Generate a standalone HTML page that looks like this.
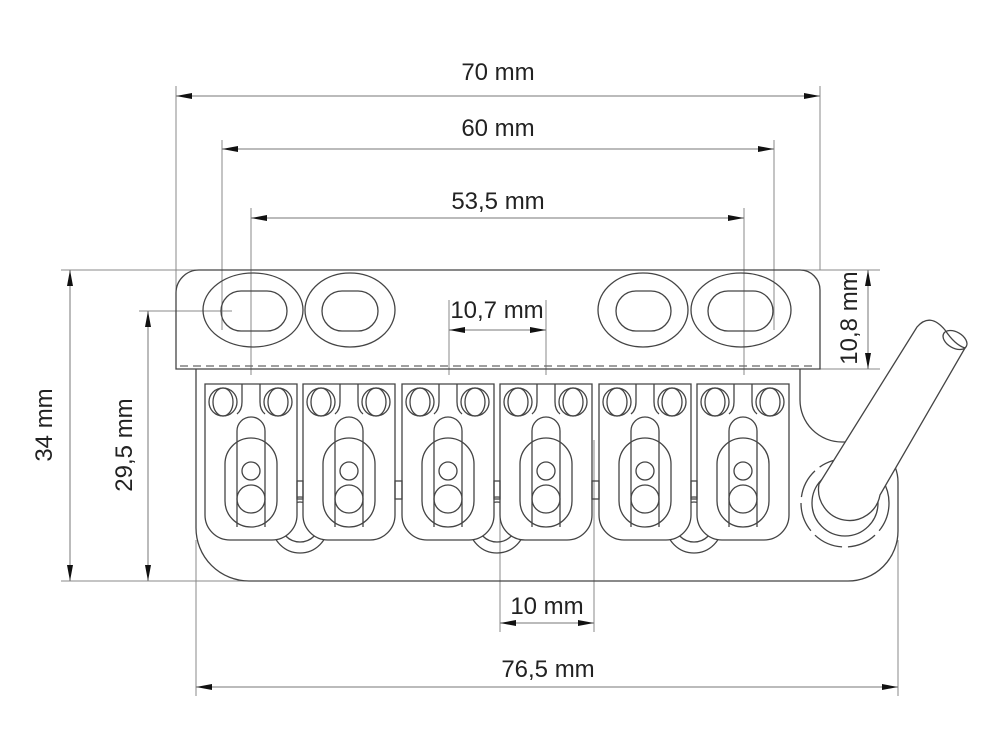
<!DOCTYPE html>
<html><head><meta charset="utf-8"><style>
html,body{margin:0;padding:0;background:#fff;}
svg{display:block;}
text{font-family:"Liberation Sans",sans-serif;font-size:24px;fill:#222;}
</style></head><body>
<svg width="1000" height="750" viewBox="0 0 1000 750" xmlns="http://www.w3.org/2000/svg">
<defs>
<marker id="a" viewBox="0 0 16 6" refX="16" refY="3" markerWidth="16" markerHeight="6" orient="auto-start-reverse" markerUnits="userSpaceOnUse"><path d="M16 3 L0 0 L0 6 Z" fill="#111"/></marker>
<g id="sad" fill="none" stroke="#444" stroke-width="1.3">
<path d="M0 384 V515 A25 25 0 0 0 25 540 H67 A25 25 0 0 0 92 515 V384 Z"/>
<circle cx="18" cy="402" r="14"/><ellipse cx="18" cy="402" rx="10" ry="14"/>
<circle cx="73" cy="402" r="14"/><ellipse cx="73" cy="402" rx="10" ry="14"/>
<path d="M37 384 V402 Q37 410 32 414 M55 384 V402 Q55 410 60 414"/>
<path d="M32 527 V431 A14 14 0 0 1 60 431 V527"/>
<rect x="20" y="438" width="52" height="89" rx="26"/>
<circle cx="46" cy="471" r="9"/><circle cx="46" cy="499" r="14"/>
</g>
</defs>
<g fill="none" stroke="#888" stroke-width="1">
<line x1="176" y1="86" x2="176" y2="300"/><line x1="820" y1="86" x2="820" y2="270"/>
<line x1="222" y1="140" x2="222" y2="330"/><line x1="774" y1="140" x2="774" y2="330"/>
<line x1="251" y1="208" x2="251" y2="375"/><line x1="744" y1="208" x2="744" y2="375"/>
<line x1="449" y1="300" x2="449" y2="375"/><line x1="546" y1="300" x2="546" y2="375"/>
<line x1="61" y1="270" x2="880" y2="270"/>
<line x1="820" y1="369" x2="880" y2="369"/>
<line x1="139" y1="311" x2="232" y2="311"/>
<line x1="61" y1="581" x2="260" y2="581"/>
<line x1="500" y1="440" x2="500" y2="632"/><line x1="594" y1="440" x2="594" y2="632"/>
<line x1="196" y1="540" x2="196" y2="696"/><line x1="898" y1="540" x2="898" y2="696"/>
</g>
<g stroke="#777" stroke-width="1" fill="none">
<line x1="176" y1="96" x2="820" y2="96" marker-start="url(#a)" marker-end="url(#a)"/>
<line x1="222" y1="149" x2="774" y2="149" marker-start="url(#a)" marker-end="url(#a)"/>
<line x1="251" y1="218" x2="744" y2="218" marker-start="url(#a)" marker-end="url(#a)"/>
<line x1="449" y1="330" x2="546" y2="330" marker-start="url(#a)" marker-end="url(#a)"/>
<line x1="868" y1="270" x2="868" y2="369" marker-start="url(#a)" marker-end="url(#a)"/>
<line x1="70" y1="270" x2="70" y2="581" marker-start="url(#a)" marker-end="url(#a)"/>
<line x1="148" y1="311" x2="148" y2="581" marker-start="url(#a)" marker-end="url(#a)"/>
<line x1="500" y1="623" x2="594" y2="623" marker-start="url(#a)" marker-end="url(#a)"/>
<line x1="196" y1="687" x2="898" y2="687" marker-start="url(#a)" marker-end="url(#a)"/>
</g>
<text x="498" y="80" text-anchor="middle">70 mm</text>
<text x="498" y="136" text-anchor="middle">60 mm</text>
<text x="498" y="209" text-anchor="middle">53,5 mm</text>
<text x="497" y="318" text-anchor="middle">10,7 mm</text>
<text x="547" y="614" text-anchor="middle">10 mm</text>
<text x="548" y="677" text-anchor="middle">76,5 mm</text>
<text transform="translate(857,318) rotate(-90)" text-anchor="middle">10,8 mm</text>
<text transform="translate(52,425) rotate(-90)" text-anchor="middle">34 mm</text>
<text transform="translate(132,445) rotate(-90)" text-anchor="middle">29,5 mm</text>
<g fill="none" stroke="#444" stroke-width="1.3">
<path d="M176 369 V293 A23 23 0 0 1 199 270 H800 A20 20 0 0 1 820 290 V369 Z"/>
<line x1="180" y1="366" x2="816" y2="366" stroke-dasharray="8 5" stroke="#666"/>
<ellipse cx="253" cy="310" rx="50" ry="37"/><rect x="221" y="291" width="66" height="40" rx="20"/>
<ellipse cx="350" cy="310" rx="45" ry="37"/><rect x="322" y="291" width="56" height="40" rx="20"/>
<ellipse cx="643" cy="310" rx="45" ry="37"/><rect x="616" y="291" width="55" height="40" rx="20"/>
<ellipse cx="741" cy="310" rx="50" ry="37"/><rect x="708" y="291" width="65" height="40" rx="20"/>
<path d="M196 369 V528 A53 53 0 0 0 249 581 H848 A50 50 0 0 0 898 531 V482 A40 40 0 0 0 858 442 H842 A42 42 0 0 1 800 400 V369"/>
<circle cx="300" cy="525" r="28"/><circle cx="300" cy="522" r="20"/>
<circle cx="497" cy="525" r="28"/><circle cx="497" cy="522" r="20"/>
<circle cx="694" cy="525" r="28"/><circle cx="694" cy="522" r="20"/>
</g>
<g fill="#fff" stroke="none">
<path d="M205 384 V515 A25 25 0 0 0 230 540 H272 A25 25 0 0 0 297 515 V384Z"/>
<path d="M303 384 V515 A25 25 0 0 0 328 540 H370 A25 25 0 0 0 395 515 V384Z"/>
<path d="M402 384 V515 A25 25 0 0 0 427 540 H469 A25 25 0 0 0 494 515 V384Z"/>
<path d="M500 384 V515 A25 25 0 0 0 525 540 H567 A25 25 0 0 0 592 515 V384Z"/>
<path d="M599 384 V515 A25 25 0 0 0 624 540 H666 A25 25 0 0 0 691 515 V384Z"/>
<path d="M697 384 V515 A25 25 0 0 0 722 540 H764 A25 25 0 0 0 789 515 V384Z"/>
</g>
<use href="#sad" x="205"/><use href="#sad" x="303"/><use href="#sad" x="402"/>
<use href="#sad" x="500"/><use href="#sad" x="599"/><use href="#sad" x="697"/>
<g fill="none" stroke="#444" stroke-width="1.3">
<rect x="297" y="481" width="6" height="18"/><rect x="395" y="481" width="7" height="18"/>
<rect x="494" y="481" width="6" height="18"/><rect x="592" y="481" width="7" height="18"/>
<rect x="691" y="481" width="6" height="18"/>
<circle cx="845" cy="503" r="33"/>
<circle cx="845" cy="503" r="44" stroke-dasharray="30 6"/>
<path d="M819 484 L917 327 Q930 312 945 330 Q955 345 965 348 L880 495 A30 30 0 0 1 819 484 Z" fill="#fff"/>
<ellipse cx="955" cy="340" rx="13" ry="8" transform="rotate(30 955 340)"/>
</g>
</svg>
</body></html>
